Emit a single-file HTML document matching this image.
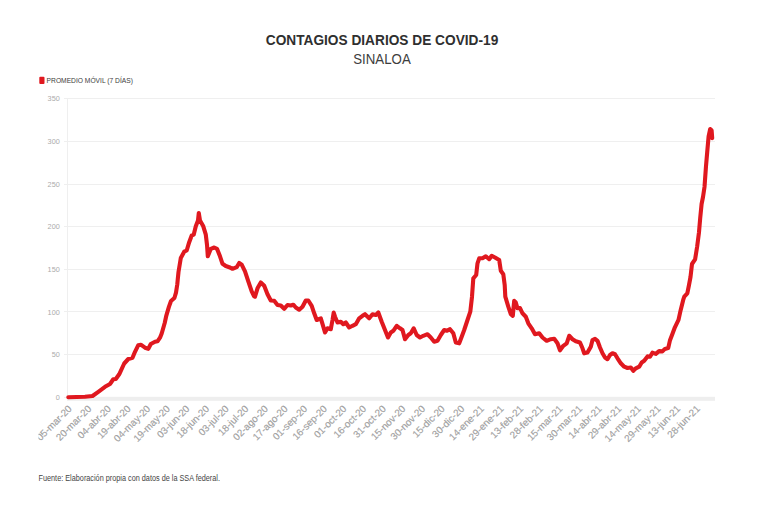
<!DOCTYPE html>
<html lang="es">
<head>
<meta charset="utf-8">
<title>Contagios diarios de COVID-19 - Sinaloa</title>
<style>
html,body{margin:0;padding:0;background:#fff;}
body{width:768px;height:512px;overflow:hidden;font-family:"Liberation Sans",sans-serif;}
svg{display:block;}
text{font-family:"Liberation Sans",sans-serif;}
</style>
</head>
<body>
<svg width="768" height="512" viewBox="0 0 768 512">
<defs><clipPath id="cl"><rect x="38.5" y="0" width="730" height="512"/></clipPath></defs>
<rect width="768" height="512" fill="#ffffff"/>
<text x="382" y="44.5" text-anchor="middle" font-size="14.7" font-weight="700" fill="#2f2f2f" textLength="232.5" lengthAdjust="spacingAndGlyphs">CONTAGIOS DIARIOS DE COVID-19</text>
<text x="382" y="64" text-anchor="middle" font-size="14.5" fill="#3d3d3d" textLength="57.5" lengthAdjust="spacingAndGlyphs">SINALOA</text>
<rect x="39.3" y="76.8" width="5.2" height="7.2" rx="1" fill="#e0181f"/>
<text x="46.6" y="83.4" font-size="7.7" fill="#3c3c3c" textLength="86.3" lengthAdjust="spacingAndGlyphs">PROMEDIO MÓVIL (7 DÍAS)</text>
<g stroke="#efefef" stroke-width="1" shape-rendering="crispEdges">
<line x1="64" x2="714.5" y1="354.64" y2="354.64"/>
<line x1="64" x2="714.5" y1="311.98" y2="311.98"/>
<line x1="64" x2="714.5" y1="269.32" y2="269.32"/>
<line x1="64" x2="714.5" y1="226.66" y2="226.66"/>
<line x1="64" x2="714.5" y1="184.00" y2="184.00"/>
<line x1="64" x2="714.5" y1="141.34" y2="141.34"/>
<line x1="64" x2="714.5" y1="98.68" y2="98.68"/>
<line x1="64" x2="67" y1="397.30" y2="397.30"/>
<line x1="67.5" x2="67.5" y1="98.5" y2="397"/>
</g>
<rect x="67" y="396.8" width="648" height="4" fill="#eeeeee"/>
<g font-size="7.3" fill="#ababab" text-anchor="end">
<text x="59.8" y="400.00">0</text>
<text x="59.8" y="357.34">50</text>
<text x="59.8" y="314.68">100</text>
<text x="59.8" y="272.02">150</text>
<text x="59.8" y="229.36">200</text>
<text x="59.8" y="186.70">250</text>
<text x="59.8" y="144.04">300</text>
<text x="59.8" y="101.38">350</text>
</g>
<g font-size="9.8" fill="#a0a0a0" stroke="#a0a0a0" stroke-width="0.15" text-anchor="end" clip-path="url(#cl)">
<text transform="translate(72.40,409.3) rotate(-45)">05-mar-20</text>
<text transform="translate(92.03,409.3) rotate(-45)">20-mar-20</text>
<text transform="translate(111.66,409.3) rotate(-45)">04-abr-20</text>
<text transform="translate(131.29,409.3) rotate(-45)">19-abr-20</text>
<text transform="translate(150.92,409.3) rotate(-45)">04-may-20</text>
<text transform="translate(170.55,409.3) rotate(-45)">19-may-20</text>
<text transform="translate(190.18,409.3) rotate(-45)">03-jun-20</text>
<text transform="translate(209.81,409.3) rotate(-45)">18-jun-20</text>
<text transform="translate(229.44,409.3) rotate(-45)">03-jul-20</text>
<text transform="translate(249.07,409.3) rotate(-45)">18-jul-20</text>
<text transform="translate(268.70,409.3) rotate(-45)">02-ago-20</text>
<text transform="translate(288.33,409.3) rotate(-45)">17-ago-20</text>
<text transform="translate(307.96,409.3) rotate(-45)">01-sep-20</text>
<text transform="translate(327.59,409.3) rotate(-45)">16-sep-20</text>
<text transform="translate(347.22,409.3) rotate(-45)">01-oct-20</text>
<text transform="translate(366.85,409.3) rotate(-45)">16-oct-20</text>
<text transform="translate(386.48,409.3) rotate(-45)">31-oct-20</text>
<text transform="translate(406.11,409.3) rotate(-45)">15-nov-20</text>
<text transform="translate(425.74,409.3) rotate(-45)">30-nov-20</text>
<text transform="translate(445.37,409.3) rotate(-45)">15-dic-20</text>
<text transform="translate(465.00,409.3) rotate(-45)">30-dic-20</text>
<text transform="translate(484.63,409.3) rotate(-45)">14-ene-21</text>
<text transform="translate(504.26,409.3) rotate(-45)">29-ene-21</text>
<text transform="translate(523.89,409.3) rotate(-45)">13-feb-21</text>
<text transform="translate(543.52,409.3) rotate(-45)">28-feb-21</text>
<text transform="translate(563.15,409.3) rotate(-45)">15-mar-21</text>
<text transform="translate(582.78,409.3) rotate(-45)">30-mar-21</text>
<text transform="translate(602.41,409.3) rotate(-45)">14-abr-21</text>
<text transform="translate(622.04,409.3) rotate(-45)">29-abr-21</text>
<text transform="translate(641.67,409.3) rotate(-45)">14-may-21</text>
<text transform="translate(661.30,409.3) rotate(-45)">29-may-21</text>
<text transform="translate(680.93,409.3) rotate(-45)">13-jun-21</text>
<text transform="translate(700.56,409.3) rotate(-45)">28-jun-21</text>
</g>
<path d="M68.3 397.2 L85.0 396.8 L92.5 396.0 L98.3 391.8 L105.0 386.8 L110.0 384.0 L113.3 379.3 L115.8 379.0 L119.2 374.3 L124.2 363.5 L128.3 359.0 L132.5 357.7 L135.0 351.8 L138.3 345.2 L140.8 344.7 L145.0 347.7 L148.3 348.8 L150.8 344.0 L155.0 341.8 L157.5 341.3 L160.0 337.7 L161.7 333.5 L164.7 323.0 L166.4 315.3 L168.9 306.9 L171.0 301.0 L174.4 298.0 L176.0 292.6 L177.3 284.2 L177.7 280.0 L178.5 272.0 L180.8 258.0 L184.2 251.7 L186.7 250.5 L189.2 242.2 L191.7 235.5 L193.7 234.7 L195.8 226.3 L198.0 220.5 L198.8 213.0 L200.0 220.5 L203.3 226.3 L205.8 234.7 L207.0 244.7 L207.8 256.3 L210.8 248.8 L214.2 247.5 L217.0 248.8 L220.0 256.3 L222.5 263.8 L225.8 266.0 L229.2 267.2 L232.5 268.8 L236.7 267.2 L239.2 263.0 L241.7 264.7 L245.0 271.3 L248.3 281.3 L251.7 291.3 L254.0 296.0 L255.0 296.7 L257.5 288.3 L260.8 282.5 L264.2 285.8 L267.5 294.2 L270.8 300.5 L274.2 300.8 L277.5 305.0 L280.8 305.5 L284.2 308.8 L287.5 305.0 L290.8 305.5 L293.3 304.7 L295.8 307.5 L299.2 309.7 L302.5 306.7 L305.8 300.5 L308.3 300.5 L311.7 305.8 L314.2 313.3 L316.7 320.0 L320.8 318.3 L323.3 326.7 L325.0 332.5 L327.5 328.3 L330.8 329.2 L332.5 320.0 L333.7 312.5 L335.0 316.7 L337.5 322.5 L340.8 321.7 L343.3 324.2 L345.8 322.5 L349.2 327.5 L352.5 325.8 L355.8 324.2 L359.2 318.3 L362.5 315.8 L365.0 314.2 L369.2 318.3 L372.5 314.2 L375.8 315.0 L378.3 312.5 L381.7 321.7 L385.0 330.0 L388.0 337.5 L390.8 332.5 L393.3 330.8 L396.7 325.8 L400.0 328.3 L402.5 330.0 L405.0 339.2 L408.3 335.0 L410.8 333.3 L413.7 328.3 L416.7 335.0 L420.0 337.5 L423.3 335.8 L427.5 334.2 L430.8 337.5 L434.2 341.7 L437.5 340.8 L440.8 335.0 L444.2 330.0 L446.7 330.8 L450.0 329.2 L453.3 333.3 L455.8 342.5 L459.2 343.3 L461.7 336.7 L464.2 330.0 L467.5 320.0 L470.3 311.7 L472.0 296.7 L473.3 278.3 L476.2 275.0 L477.5 263.3 L479.2 258.3 L482.5 258.3 L485.8 256.3 L489.2 259.2 L491.7 255.8 L495.0 257.5 L499.2 260.0 L500.8 270.8 L503.3 274.2 L504.7 285.0 L505.3 296.7 L508.3 306.7 L510.8 314.2 L512.8 315.8 L514.2 300.8 L515.8 302.5 L517.5 308.3 L520.0 308.0 L522.5 313.3 L525.8 316.7 L528.3 323.3 L531.7 328.3 L535.0 334.2 L539.2 333.3 L542.5 337.5 L546.7 340.8 L550.8 339.2 L554.2 338.8 L557.5 343.3 L560.0 350.3 L563.3 345.8 L566.7 343.3 L569.2 335.8 L572.5 339.2 L575.8 341.3 L580.0 342.5 L582.5 348.3 L584.2 353.3 L587.5 352.5 L590.8 346.7 L592.5 340.0 L595.0 338.8 L597.5 340.8 L600.0 347.5 L602.5 353.3 L605.0 357.5 L607.5 359.2 L610.0 355.0 L612.5 353.3 L615.0 354.2 L617.5 358.3 L620.8 363.3 L624.2 366.7 L627.5 368.0 L630.8 367.5 L633.3 370.8 L635.8 368.3 L639.2 366.7 L641.7 362.5 L644.2 360.8 L647.5 356.4 L650.0 356.7 L652.4 352.7 L655.8 353.9 L659.1 351.1 L662.4 351.4 L664.9 348.9 L668.2 348.1 L669.9 340.6 L672.4 334.0 L674.9 327.3 L678.5 319.9 L680.7 309.9 L683.2 299.9 L684.3 296.6 L687.3 293.3 L689.0 285.0 L690.5 277.0 L692.0 264.0 L695.1 259.4 L697.2 246.2 L699.0 232.2 L700.2 218.1 L701.6 204.0 L703.0 197.0 L704.5 187.0 L706.0 166.2 L707.2 152.2 L708.6 136.4 L710.2 129.0 L711.6 130.2 L712.2 138.1" fill="none" stroke="#e0181f" stroke-width="4.1" stroke-linejoin="round" stroke-linecap="round"/>
<text x="38.5" y="481" font-size="8.3" fill="#444444" textLength="181.5" lengthAdjust="spacingAndGlyphs">Fuente: Elaboración propia con datos de la SSA federal.</text>
</svg>
</body>
</html>
